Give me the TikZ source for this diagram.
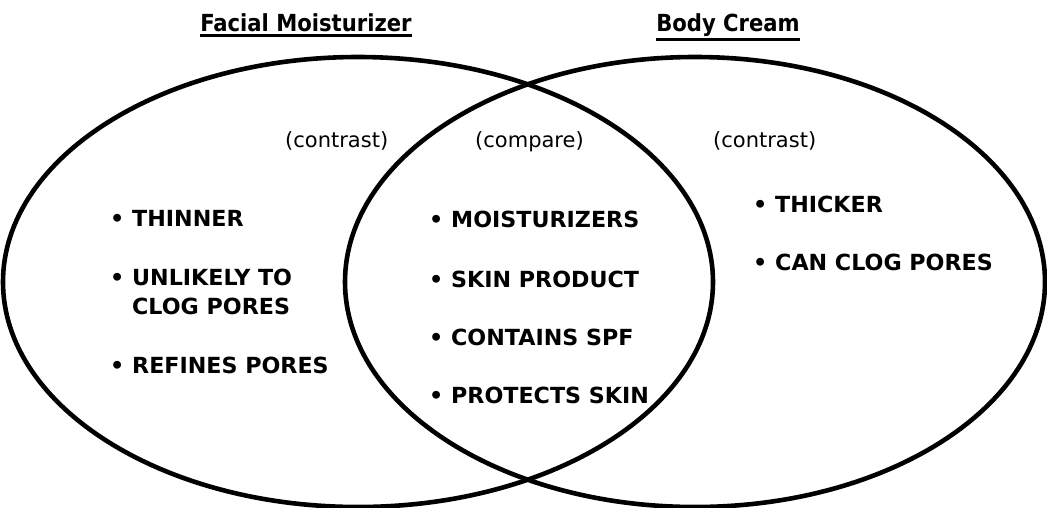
\documentclass[tikz,border=0pt]{standalone}
\usepackage{fontspec}
\setmainfont{DejaVu Sans}
\newfontfamily\condfont{DejaVu Sans Condensed}
\begin{document}
\begin{tikzpicture}[x=1pt,y=-1pt,
  ring/.style={line width=4.6pt},
  titletext/.style={font=\condfont\bfseries\fontsize{23.5}{26}\selectfont, anchor=base, inner sep=0pt},
  ulstyle/.style={line width=3pt},
  hint/.style={font=\fontsize{21}{24}\selectfont, anchor=base west, inner sep=0pt},
  item/.style={font=\bfseries\fontsize{22.2}{29}\selectfont, anchor=base west, inner sep=0pt, align=left},
  dot/.style={font=\bfseries\fontsize{22.2}{29}\selectfont, anchor=base west, inner sep=0pt}
]
\useasboundingbox (0,0) rectangle (1047,507);
\draw[ring] (358,282) ellipse [x radius=355, y radius=225];
\draw[ring] (695,282) ellipse [x radius=350, y radius=225];

\node[titletext] (t1) at (306,31) {Facial Moisturizer};
\node[titletext] (t2) at (728,31) {Body Cream};
\draw[ulstyle] ([yshift=-3.5pt]t1.south west) -- ([yshift=-3.5pt]t1.south east);
\draw[ulstyle] ([yshift=-3.5pt]t2.south west) -- ([yshift=-3.5pt]t2.south east);

\node[hint] (h1) at (285,147) {(contrast)};
\node[hint] (h2) at (475,147) {(compare)};
\node[hint] (h3) at (713,147) {(contrast)};

% left
\node[dot] (b1) at (110,226) {•};
\node[item] (l1) at (132,226) {THINNER};
\node[dot] (b2) at (110,285) {•};
\node[item] (l2) at (132,285) {UNLIKELY TO};
\node[item] (l2b) at (132,314) {CLOG PORES};
\node[dot] (b3) at (110,373) {•};
\node[item] (l3) at (132,373) {REFINES PORES};

% middle
\node[dot] (b4) at (429,227) {•};
\node[item] (m1) at (451,227) {MOISTURIZERS};
\node[dot] (b5) at (429,287) {•};
\node[item] (m2) at (451,287) {SKIN PRODUCT};
\node[dot] (b6) at (429,345) {•};
\node[item] (m3) at (451,345) {CONTAINS SPF};
\node[dot] (b7) at (429,403) {•};
\node[item] (m4) at (451,403) {PROTECTS SKIN};

% right
\node[dot] (b8) at (753,212) {•};
\node[item] (r1) at (775,212) {THICKER};
\node[dot] (b9) at (753,270) {•};
\node[item] (r2) at (775,270) {CAN CLOG PORES};
\end{tikzpicture}
\end{document}
